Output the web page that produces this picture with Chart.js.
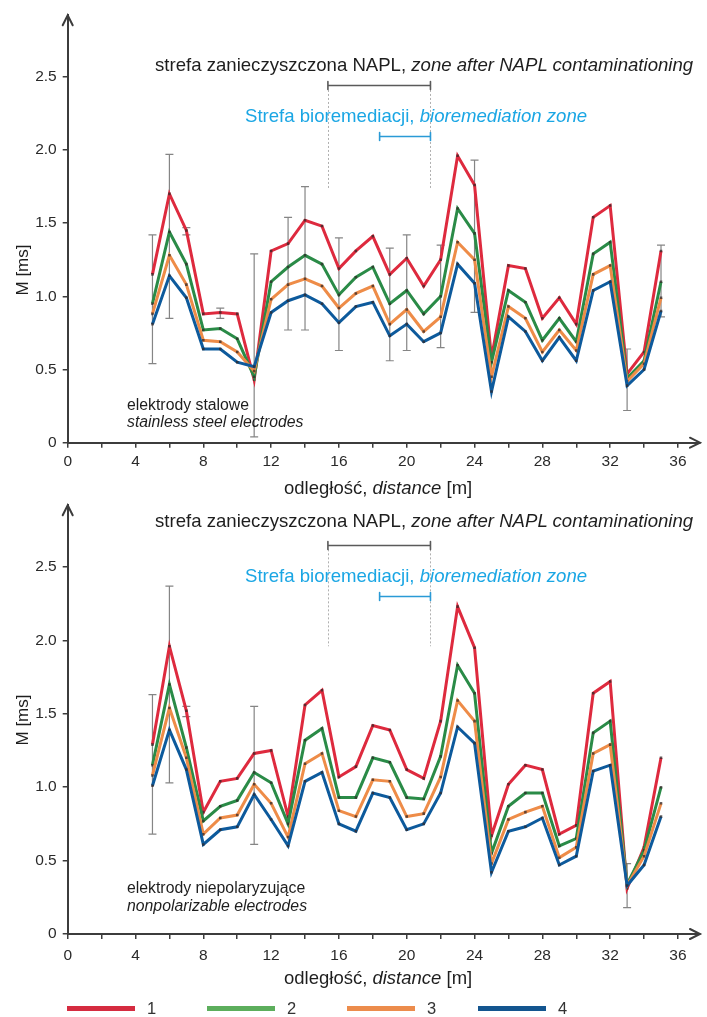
<!DOCTYPE html>
<html><head><meta charset="utf-8">
<script src="https://cdn.jsdelivr.net/npm/chart.js@4/dist/chart.umd.min.js"></script>
<style>
html,body{margin:0;padding:0;background:#fff;width:707px;height:1017px;overflow:hidden;font-family:"Liberation Sans",Arial,sans-serif;}
.c{position:absolute;left:0;width:707px;}
.t{position:absolute;white-space:nowrap;color:#1e1e1e;line-height:1;}
.napl{font-size:18.6px;left:155px;}
.bio{font-size:18.6px;left:245px;color:#1aa6e4;}
.el{font-size:15.8px;left:127px;}
.xt{font-size:18.5px;left:284px;}
.yt{font-size:17px;left:22px;transform:translate(-50%,-50%) rotate(-90deg);}
#legend{position:absolute;left:0;top:999px;width:707px;height:18px;}
.lg{position:absolute;top:0;font-size:16.5px;color:#333;line-height:18px;}
.lg i{position:absolute;left:0;top:7px;width:68px;height:5px;}
.lg span{position:absolute;left:80px;top:0;}
</style></head><body>
<div class="c" style="top:0;height:495px"><canvas id="c1"></canvas></div>
<div class="c" style="top:490px;height:496px"><canvas id="c2"></canvas></div>

<div class="t napl" style="top:56px">strefa zanieczyszczona NAPL, <i>zone after NAPL contaminationing</i></div>
<div class="t bio" style="top:107px">Strefa bioremediacji, <i>bioremediation zone</i></div>
<div class="t el" style="top:397px">elektrody stalowe</div>
<div class="t el" style="top:414px"><i>stainless steel electrodes</i></div>
<div class="t xt" style="top:479px">odległość, <i>distance</i> [m]</div>
<div class="t yt" style="top:270px">M [ms]</div>

<div class="t napl" style="top:512px">strefa zanieczyszczona NAPL, <i>zone after NAPL contaminationing</i></div>
<div class="t bio" style="top:567px">Strefa bioremediacji, <i>bioremediation zone</i></div>
<div class="t el" style="top:880px">elektrody niepolaryzujące</div>
<div class="t el" style="top:898px"><i>nonpolarizable electrodes</i></div>
<div class="t xt" style="top:969px">odległość, <i>distance</i> [m]</div>
<div class="t yt" style="top:720px">M [ms]</div>

<div id="legend"></div>

<script>
// ---------- data ----------
const distance = [5,6,7,8,9,10,11,12,13,14,15,16,17,18,19,20,21,22,23,24,25,26,27,28,29,30,31,32,33,34,35];
const seriesLabels = ['1','2','3','4'];

// stainless steel electrodes (top)
const steel1 = [1.15,1.70,1.45,0.88,0.89,0.88,0.43,1.31,1.36,1.52,1.48,1.19,1.31,1.41,1.15,1.26,1.07,1.25,1.96,1.76,0.58,1.21,1.19,0.85,0.99,0.81,1.54,1.62,0.47,0.62,1.31];
const steel2 = [0.95,1.44,1.22,0.77,0.78,0.71,0.45,1.10,1.20,1.28,1.22,1.01,1.13,1.20,0.95,1.04,0.88,1.00,1.60,1.43,0.55,1.04,0.96,0.70,0.85,0.69,1.29,1.37,0.44,0.56,1.10];
const steel3 = [0.88,1.28,1.08,0.70,0.69,0.62,0.49,0.98,1.08,1.12,1.07,0.92,1.02,1.07,0.81,0.91,0.76,0.86,1.37,1.25,0.45,0.93,0.85,0.62,0.77,0.63,1.15,1.21,0.42,0.54,0.99];
const steel4 = [0.81,1.14,0.99,0.64,0.64,0.55,0.52,0.89,0.97,1.01,0.95,0.82,0.93,0.96,0.73,0.81,0.69,0.75,1.22,1.09,0.35,0.86,0.76,0.56,0.72,0.56,1.04,1.10,0.39,0.50,0.90];
const steelErrX    = [5,6,7,9,11,13,14,16,19,20,22,24,33,35];
const steelErrLow  = [0.54,0.85,1.42,0.85,0.04,0.77,0.77,0.63,0.56,0.63,0.65,0.89,0.22,0.86];
const steelErrHigh = [1.42,1.97,1.47,0.92,1.29,1.54,1.75,1.40,1.33,1.42,1.35,1.93,0.64,1.35];

// nonpolarizable electrodes (bottom)
const np1 = [1.29,1.96,1.52,0.83,1.04,1.06,1.23,1.25,0.80,1.56,1.66,1.07,1.14,1.42,1.39,1.12,1.06,1.45,2.23,1.95,0.67,1.02,1.15,1.12,0.68,0.74,1.64,1.72,0.31,0.59,1.20];
const np2 = [1.15,1.70,1.27,0.77,0.87,0.91,1.10,1.03,0.75,1.32,1.40,0.93,0.93,1.20,1.17,0.93,0.92,1.21,1.83,1.64,0.55,0.87,0.96,0.96,0.60,0.65,1.37,1.45,0.34,0.57,1.00];
const np3 = [1.08,1.54,1.20,0.68,0.79,0.81,1.02,0.89,0.66,1.16,1.23,0.84,0.80,1.05,1.04,0.80,0.82,1.07,1.59,1.45,0.48,0.78,0.83,0.87,0.52,0.59,1.23,1.29,0.33,0.53,0.89];
const np4 = [1.01,1.39,1.12,0.61,0.71,0.73,0.95,0.78,0.60,1.04,1.10,0.75,0.70,0.96,0.93,0.71,0.75,0.96,1.41,1.30,0.42,0.70,0.73,0.79,0.47,0.53,1.11,1.15,0.33,0.47,0.80];
const npErrX    = [5,6,7,11,33];
const npErrLow  = [0.68,1.03,1.48,0.61,0.18];
const npErrHigh = [1.63,2.37,1.55,1.55,0.48];

// zones along distance [m]
const naplZone = [15.35,21.4];
const bioZone  = [18.4,21.4];

const xTicks = [0,2,4,6,8,10,12,14,16,18,20,22,24,26,28,30,32,34,36];
const yTicks = [0,0.5,1,1.5,2,2.5];

// ---------- styles ----------
const lineColors = ['#de2a3e','#2a8b47','#ee8c48','#0d5a9c'];
const legendColors = ['#d52b40','#5cae5c','#ec8c4c','#13558f'];
const axisColor = '#3c3c3c';

const decor = {
  id:'decor',
  beforeDatasetsDraw(chart, args, o){
    const {ctx, scales:{x,y}} = chart;
    ctx.save();
    ctx.strokeStyle='#b0b0b0'; ctx.lineWidth=1; ctx.setLineDash([2,2]);
    [naplZone[0], naplZone[1]].forEach(v=>{
      const px=Math.round(x.getPixelForValue(v))+0.5;
      ctx.beginPath(); ctx.moveTo(px,y.getPixelForValue(o.dotTop)); ctx.lineTo(px,y.getPixelForValue(o.dotBottom)); ctx.stroke();
    });
    ctx.setLineDash([]);
    ctx.strokeStyle='#858585'; ctx.lineWidth=1.2;
    o.errX.forEach((xv,i)=>{
      const px=x.getPixelForValue(xv), p1=y.getPixelForValue(o.errLow[i]), p2=y.getPixelForValue(o.errHigh[i]);
      ctx.beginPath(); ctx.moveTo(px,p1); ctx.lineTo(px,p2);
      ctx.moveTo(px-4,p1); ctx.lineTo(px+4,p1); ctx.moveTo(px-4,p2); ctx.lineTo(px+4,p2); ctx.stroke();
    });
    ctx.restore();
  },
  afterDraw(chart, args, o){
    const {ctx, chartArea:a, scales:{x,y}} = chart;
    ctx.save();
    ctx.strokeStyle=axisColor; ctx.lineWidth=2; ctx.lineCap='round';
    ctx.beginPath();
    ctx.moveTo(a.left-5,a.top+10); ctx.lineTo(a.left,a.top); ctx.lineTo(a.left+5,a.top+10);
    ctx.moveTo(a.right-10,a.bottom-5); ctx.lineTo(a.right,a.bottom); ctx.lineTo(a.right-10,a.bottom+5);
    ctx.stroke();
    const bar=(z,yv,col)=>{
      const l=x.getPixelForValue(z[0]), r=x.getPixelForValue(z[1]), py=Math.round(y.getPixelForValue(yv))+0.5;
      ctx.strokeStyle=col; ctx.lineWidth=1.6;
      ctx.beginPath(); ctx.moveTo(l,py); ctx.lineTo(r,py);
      ctx.moveTo(l,py-4); ctx.lineTo(l,py+4); ctx.moveTo(r,py-4); ctx.lineTo(r,py+4); ctx.stroke();
    };
    bar(naplZone,o.naplY,'#5a5a5a');
    bar(bioZone,o.bioY,'#2a9ad6');
    ctx.restore();
  }
};

function makeChart(id, series, err, levels){
  const datasets = series.map((s,i)=>({
    label: seriesLabels[i],
    data: distance.map((d,k)=>({x:d,y:s[k]})),
    borderColor: lineColors[i],
    backgroundColor: lineColors[i],
    borderWidth: 3,
    pointRadius: 1.8,
    pointStyle: 'rect',
    pointBackgroundColor: 'rgba(50,40,40,0.75)',
    pointBorderWidth: 0,
    tension: 0,
    order: 4-i
  }));
  return new Chart(document.getElementById(id), {
    type:'line',
    data:{datasets},
    plugins:[decor],
    options:{
      responsive:true, maintainAspectRatio:false, animation:false,
      layout:{padding:{left:0,right:7,top:10,bottom:0}},
      plugins:{
        legend:{display:false}, tooltip:{enabled:false},
        decor:Object.assign({errX:err[0],errLow:err[1],errHigh:err[2]}, levels)
      },
      scales:{
        x:{type:'linear',min:0,max:37.3,
          afterBuildTicks(s){ s.ticks = xTicks.map(v=>({value:v})); },
          afterFit(s){ s.height = levels.xh; },
          border:{display:true,color:axisColor,width:2},
          grid:{drawOnChartArea:false,drawTicks:true,tickLength:5,color:axisColor,lineWidth:1.5},
          ticks:{autoSkip:false,maxRotation:0,padding:levels.xpad,color:'#2a2a2a',font:{family:'"Liberation Sans", Arial',size:15.5},
            callback:(v)=> (v%4===0 ? String(v) : '')}
        },
        y:{min:0,max:2.92,
          afterBuildTicks(s){ s.ticks = yTicks.map(v=>({value:v})); },
          afterFit(s){ s.width = 67.7; },
          border:{display:true,color:axisColor,width:2},
          grid:{drawOnChartArea:false,drawTicks:true,tickLength:5,color:axisColor,lineWidth:1.5},
          ticks:{padding:6,color:'#2a2a2a',font:{family:'"Liberation Sans", Arial',size:15.5},
            callback:(v)=> (v===0 ? '0' : v.toFixed(1))}
        }
      }
    }
  });
}

makeChart('c1',[steel1,steel2,steel3,steel4],[steelErrX,steelErrLow,steelErrHigh],
  {naplY:2.447,bioY:2.097,dotTop:2.41,dotBottom:1.73,xh:52.3,xpad:5});
makeChart('c2',[np1,np2,np3,np4],[npErrX,npErrLow,npErrHigh],
  {naplY:2.65,bioY:2.30,dotTop:2.62,dotBottom:1.96,xh:52,xpad:7});

// legend
const lgPos=[67,207,347,478];
const lg=document.getElementById('legend');
seriesLabels.forEach((l,i)=>{
  const d=document.createElement('div'); d.className='lg'; d.style.left=lgPos[i]+'px';
  d.innerHTML='<i style="background:'+legendColors[i]+'"></i><span>'+l+'</span>';
  lg.appendChild(d);
});
</script>
</body></html>
